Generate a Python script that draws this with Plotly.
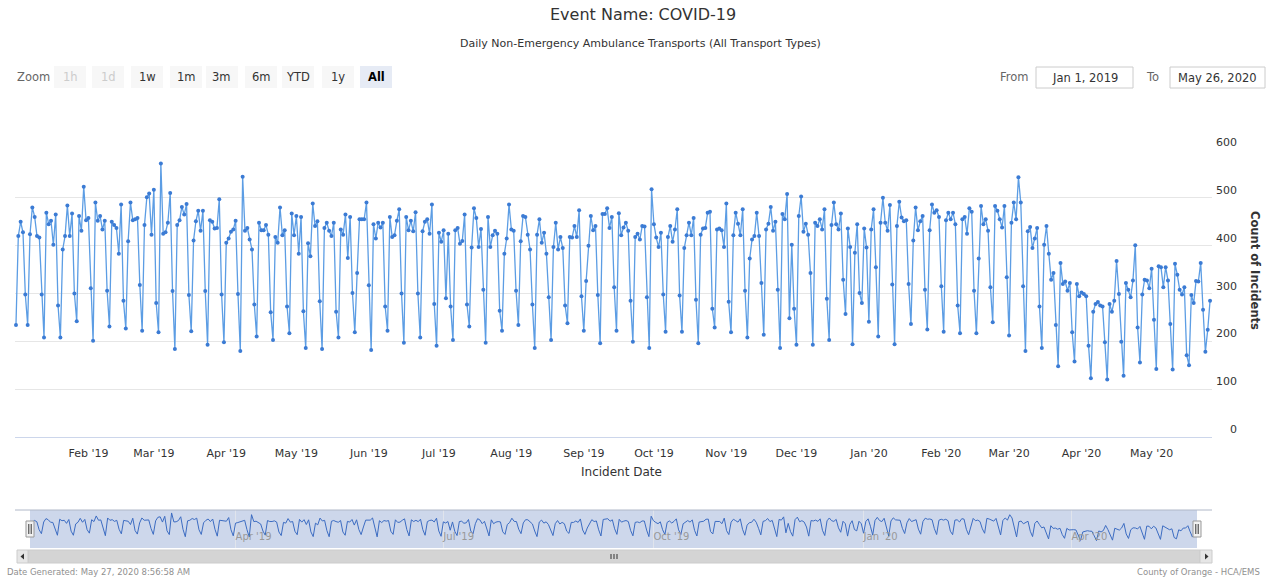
import plotly.graph_objects as go
import pandas as pd

# ---------------- data ----------------
start_date = "2019-01-01"
counts = [
    234, 420, 450, 428, 298, 234, 424,
    480, 460, 420, 417, 298, 208, 469,
    445, 452, 402, 465, 275, 208, 392,
    420, 484, 420, 467, 300, 242, 462,
    431, 523, 453, 458, 311, 201, 490,
    452, 462, 434, 452, 306, 231, 450,
    443, 437, 383, 486, 285, 227, 409,
    490, 453, 455, 458, 318, 222, 443,
    501, 509, 423, 517, 280, 219, 572,
    425, 428, 448, 510, 305, 184, 443,
    453, 481, 465, 487, 297, 221, 411,
    451, 473, 431, 473, 305, 193, 453,
    450, 436, 437, 497, 298, 198, 406,
    415, 429, 434, 452, 299, 180, 544,
    431, 437, 413, 392, 277, 210, 448,
    432, 432, 443, 423, 261, 203, 418,
    406, 480, 422, 432, 273, 217, 467,
    422, 462, 383, 460, 263, 186, 405,
    378, 488, 441, 451, 284, 184, 437,
    448, 431, 420, 448, 262, 208, 434,
    423, 465, 374, 460, 301, 219, 343,
    455, 455, 455, 490, 317, 182, 445,
    415, 448, 438, 448, 273, 222, 460,
    418, 422, 452, 476, 300, 197, 460,
    432, 452, 430, 470, 300, 208, 430,
    450, 455, 425, 486, 278, 191, 427,
    408, 432, 290, 425, 273, 203, 432,
    437, 404, 410, 465, 277, 231, 396,
    478, 458, 397, 435, 308, 197, 460,
    397, 422, 431, 425, 264, 222, 383,
    415, 486, 434, 431, 306, 234, 409,
    462, 460, 423, 392, 277, 186, 423,
    455, 406, 427, 383, 292, 203, 397,
    448, 392, 418, 395, 275, 238, 418,
    417, 441, 418, 474, 294, 222, 326,
    400, 462, 432, 441, 297, 196, 466,
    466, 478, 437, 460, 313, 222, 468,
    422, 438, 448, 431, 285, 199, 418,
    425, 413, 441, 440, 292, 186, 518,
    445, 417, 397, 427, 298, 220, 418,
    441, 408, 434, 476, 296, 220, 395,
    422, 448, 422, 458, 287, 196, 423,
    436, 437, 469, 471, 268, 229, 434,
    436, 432, 397, 488, 283, 219, 422,
    469, 446, 422, 476, 306, 208, 373,
    413, 420, 469, 420, 322, 214, 434,
    446, 481, 431, 450, 308, 186, 466,
    455, 508, 248, 402, 268, 193, 462,
    503, 429, 446, 423, 343, 193, 448,
    441, 455, 434, 476, 289, 203, 443,
    490, 445, 434, 467, 329, 257, 436,
    397, 194, 385, 445, 301, 280, 436,
    396, 241, 434, 476, 355, 210, 448,
    500, 448, 431, 485, 319, 194, 441,
    492, 459, 451, 453, 320, 236, 411,
    480, 432, 451, 462, 308, 225, 432,
    486, 469, 474, 460, 315, 220, 453,
    469, 455, 469, 445, 275, 217, 455,
    460, 425, 478, 471, 306, 217, 373,
    483, 445, 455, 431, 313, 240, 483,
    473, 455, 438, 483, 334, 212, 448,
    490, 455, 543, 490, 315, 180, 430,
    439, 395, 415, 437, 273, 186, 402,
    441, 383, 329, 343, 234, 148, 364,
    320, 325, 306, 322, 219, 158, 320,
    294, 302, 299, 294, 191, 123, 262,
    278, 282, 275, 273, 198, 120, 278,
    262, 285, 368, 299, 199, 128, 322,
    308, 292, 327, 401, 229, 156, 298,
    329, 327, 311, 352, 245, 142, 357,
    355, 313, 355, 327, 236, 141, 362,
    339, 308, 298, 313, 171, 150, 297,
    280, 326, 325, 364, 266, 178, 224,
    285,
]
dates = pd.date_range(start_date, periods=len(counts), freq="D")

month_ticks = ["2019-02-01", "2019-03-01", "2019-04-01", "2019-05-01", "2019-06-01",
               "2019-07-01", "2019-08-01", "2019-09-01", "2019-10-01", "2019-11-01",
               "2019-12-01", "2020-01-01", "2020-02-01", "2020-03-01", "2020-04-01",
               "2020-05-01"]
month_labels = ["Feb '19", "Mar '19", "Apr '19", "May '19", "Jun '19", "Jul '19",
                "Aug '19", "Sep '19", "Oct '19", "Nov '19", "Dec '19", "Jan '20",
                "Feb '20", "Mar '20", "Apr '20", "May '20"]
nav_ticks = ["2019-04-01", "2019-07-01", "2019-10-01", "2020-01-01", "2020-04-01"]
nav_labels = ["Apr '19", "Jul '19", "Oct '19", "Jan '20", "Apr '20"]
y_ticks = [0, 100, 200, 300, 400, 500, 600]
zoom_buttons = ["1h", "1d", "1w", "1m", "3m", "6m", "YTD", "1y", "All"]
disabled_buttons = ["1h", "1d"]
selected_button = "All"
from_date_text = "Jan 1, 2019"
to_date_text = "May 26, 2020"

# ---------------- layout helpers ----------------
W, H = 1267, 579
FONT = "DejaVu Sans"


def px(x):
    return x / W


def py(y):
    return 1 - y / H


def note(text, x, y, size, color, xanchor="center", **kw):
    return dict(text=text, x=px(x), y=py(y), xref="paper", yref="paper",
                xanchor=xanchor, yanchor="middle", showarrow=False,
                font=dict(size=size, color=color, family=FONT), **kw)


# right-aligned y tick labels (pad with figure spaces)
y_ticktext = [("\u2007" * (3 - len(str(v)))) + str(v) for v in y_ticks]

fig = go.Figure()

fig.add_trace(go.Scatter(
    x=dates, y=counts, mode="lines+markers",
    line=dict(color="#5c9de4", width=1.3),
    marker=dict(color="#3b7bd4", size=4),
    xaxis="x", yaxis="y", cliponaxis=False,
    name="Incidents", showlegend=False,
))

fig.add_trace(go.Scatter(
    x=dates, y=counts, mode="lines",
    line=dict(color="#3c6cc2", width=1),
    xaxis="x2", yaxis="y2", hoverinfo="skip", showlegend=False,
))

shapes = []
annotations = []

# titles
annotations.append(note("Event Name: COVID-19", 643, 14, 16, "#333333"))
annotations.append(note("Daily Non-Emergency Ambulance Transports (All Transport Types)",
                        641, 44, 11, "#333333"))

# range selector (zoom buttons)
annotations.append(note("Zoom", 33, 77, 11.5, "#666666"))
btn_centers = [70, 108, 147, 186, 222, 261, 298, 338, 376]
for label, cx in zip(zoom_buttons, btn_centers):
    sel = label == selected_button
    fill = "#e6ebf5" if sel else "#f7f7f7"
    shapes.append(dict(type="rect", xref="paper", yref="paper",
                       x0=px(cx - 16), x1=px(cx + 16), y0=py(88), y1=py(66),
                       fillcolor=fill, line=dict(width=0), layer="below"))
    col = "#cccccc" if label in disabled_buttons else ("#000000" if sel else "#333333")
    txt = "<b>%s</b>" % label if sel else label
    annotations.append(note(txt, cx, 77, 11.5, col))

# From / To inputs
annotations.append(note("From", 1014, 77, 11.5, "#666666"))
annotations.append(note("To", 1152, 77, 11.5, "#666666"))
for (x0, x1, t) in [(1036, 1133, from_date_text), (1170, 1265, to_date_text)]:
    shapes.append(dict(type="rect", xref="paper", yref="paper", x0=px(x0), x1=px(x1),
                       y0=py(88), y1=py(67), line=dict(color="#cccccc", width=1),
                       fillcolor="white", layer="below"))
    annotations.append(note(t, (x0 + x1) / 2, 77.5, 11.5, "#333333"))

# axis titles
annotations.append(note("Incident Date", 621, 472, 12, "#333333"))
annotations.append(note("<b>Count of Incidents</b>", 1255, 270, 11.5, "#333333", textangle=90))

# navigator
nav_x0, nav_x1, nav_top, nav_bot = 30, 1197, 510, 548
shapes.append(dict(type="rect", xref="paper", yref="paper", x0=px(nav_x0), x1=px(nav_x1),
                   y0=py(nav_bot), y1=py(nav_top), fillcolor="rgba(102,133,194,0.33)",
                   line=dict(width=0), layer="below"))
shapes.append(dict(type="line", xref="paper", yref="paper", x0=px(15), x1=px(1212),
                   y0=py(nav_top), y1=py(nav_top), line=dict(color="#b0b8c8", width=1)))
for hx in [nav_x0, nav_x1]:
    shapes.append(dict(type="rect", xref="paper", yref="paper", x0=px(hx - 4), x1=px(hx + 4),
                       y0=py(537), y1=py(521), fillcolor="#f2f2f2",
                       line=dict(color="#999999", width=1)))
    for dx in (-1.2, 1.2):
        shapes.append(dict(type="line", xref="paper", yref="paper", x0=px(hx + dx), x1=px(hx + dx),
                           y0=py(534), y1=py(524), line=dict(color="#333333", width=1)))

# scrollbar
shapes.append(dict(type="rect", xref="paper", yref="paper", x0=px(17), x1=px(1212),
                   y0=py(563), y1=py(550), fillcolor="#f2f2f2", line=dict(width=0)))
shapes.append(dict(type="rect", xref="paper", yref="paper", x0=px(28), x1=px(1200),
                   y0=py(563), y1=py(550), fillcolor="#d4d4d4", line=dict(color="#cccccc", width=1)))
for (bx0, bx1) in [(17, 28), (1200, 1212)]:
    shapes.append(dict(type="rect", xref="paper", yref="paper", x0=px(bx0), x1=px(bx1),
                       y0=py(563), y1=py(550), fillcolor="#e6e6e6", line=dict(color="#cccccc", width=1)))
shapes.append(dict(type="path", xref="paper", yref="paper",
                   path="M %f %f L %f %f L %f %f Z" % (px(20.5), py(556.5), px(24), py(553.5), px(24), py(559.5)),
                   fillcolor="#333333", line=dict(width=0)))
shapes.append(dict(type="path", xref="paper", yref="paper",
                   path="M %f %f L %f %f L %f %f Z" % (px(1208.5), py(556.5), px(1205), py(553.5), px(1205), py(559.5)),
                   fillcolor="#333333", line=dict(width=0)))
for gx in (611, 614, 617):
    shapes.append(dict(type="line", xref="paper", yref="paper", x0=px(gx), x1=px(gx),
                       y0=py(559), y1=py(554), line=dict(color="#333333", width=1)))

# credits
annotations.append(note("Date Generated: May 27, 2020 8:56:58 AM", 5, 572, 8.5, "#909090", xanchor="left"))
annotations.append(note("County of Orange - HCA/EMS", 1262, 572, 8.5, "#909090", xanchor="right"))

fig.update_layout(
    template="none",
    width=W, height=H, autosize=False,
    margin=dict(l=0, r=0, t=0, b=0, pad=0, autoexpand=False),
    paper_bgcolor="white", plot_bgcolor="rgba(0,0,0,0)",
    font=dict(family=FONT, color="#333333"),
    showlegend=False,
    hovermode="x",
    xaxis=dict(
        domain=[px(15), px(1212)], anchor="y", automargin=False,
        range=["2018-12-31 14:00", "2020-05-26 20:00"],
        tickmode="array", tickvals=month_ticks, ticktext=month_labels,
        showgrid=False, zeroline=False,
        showline=True, linecolor="#ccd6eb", linewidth=1,
        ticks="", ticklabelstandoff=6,
        tickfont=dict(size=11, color="#333333", family=FONT),
    ),
    yaxis=dict(
        domain=[py(437), py(150)], anchor="x", side="right", automargin=False,
        range=[0, 600], tickmode="array", tickvals=y_ticks, ticktext=y_ticktext,
        showgrid=True, gridcolor="#e6e6e6", gridwidth=1, zeroline=False,
        showline=False, ticks="", ticklabelposition="outside top", ticklabelstandoff=3,
        tickfont=dict(size=11, color="#333333", family=FONT),
    ),
    xaxis2=dict(
        domain=[px(nav_x0), px(nav_x1)], anchor="y2", automargin=False,
        range=[dates[0], dates[-1]],
        tickmode="array", tickvals=nav_ticks, ticktext=nav_labels,
        showgrid=True, gridcolor="#e0e4ec", gridwidth=1, zeroline=False,
        showline=False, ticks="", ticklabelposition="inside right",
        tickfont=dict(size=10, color="#999999", family=FONT),
        fixedrange=True,
    ),
    yaxis2=dict(
        domain=[py(nav_bot), py(nav_top)], anchor="x2", automargin=False,
        range=[0, 620], visible=False, fixedrange=True,
    ),
    shapes=shapes,
    annotations=annotations,
)

post = (
    "document.body.style.margin='0px';"
    "document.body.style.overflow='hidden';"
)
fig.write_html("out.html", config={"displayModeBar": False, "responsive": False},
               post_script=post)
